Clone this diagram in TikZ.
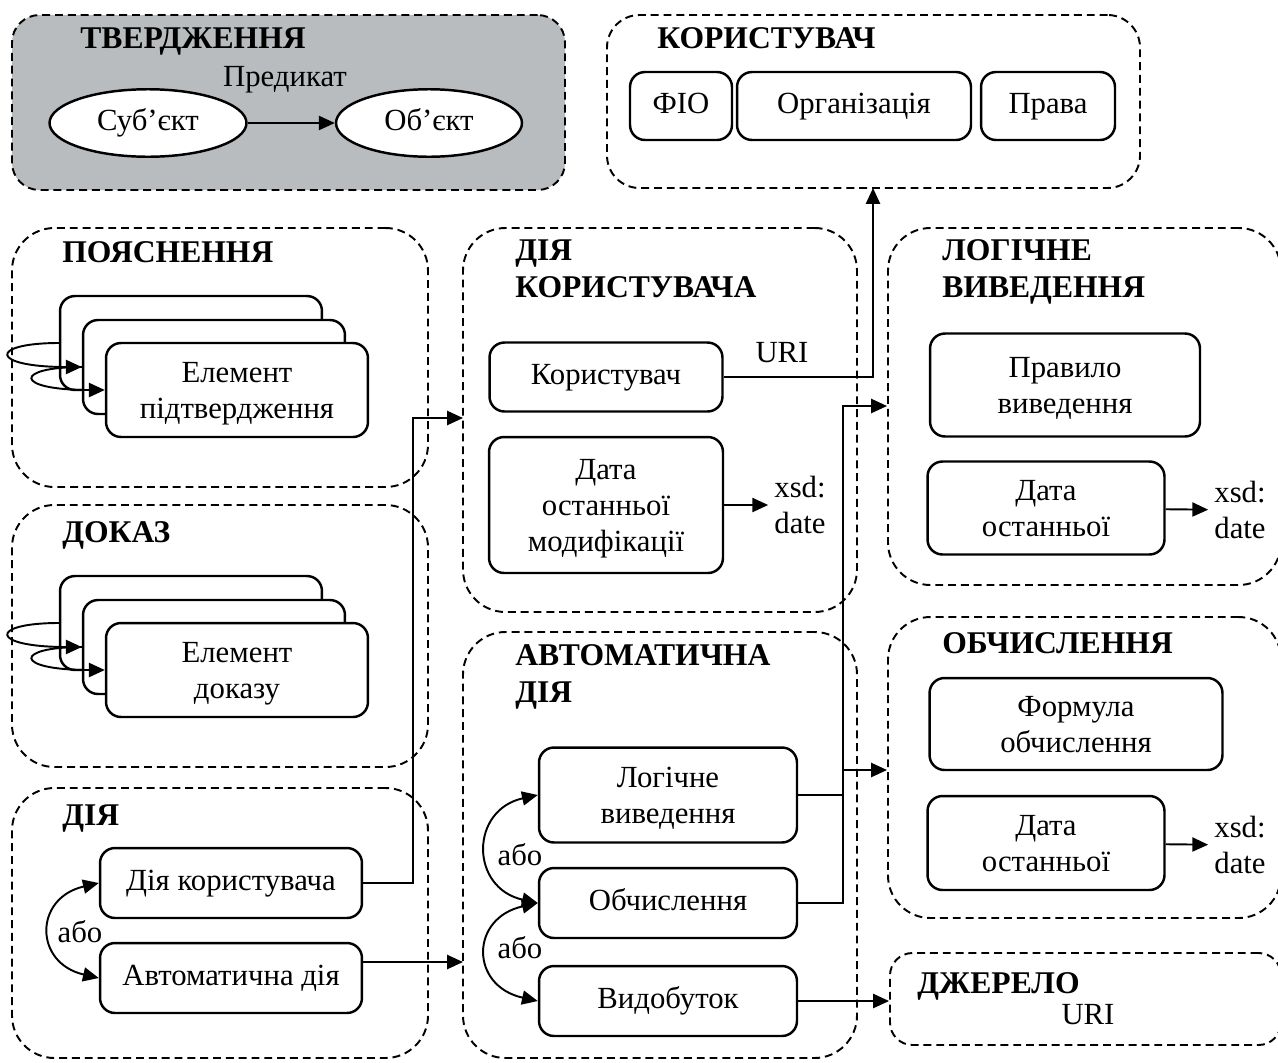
\documentclass[tikz,border=0pt]{standalone}
\usepackage{fontspec}
\setmainfont{Liberation Serif}
\usetikzlibrary{shapes.geometric, arrows.meta, fit}
\definecolor{claimgray}{RGB}{184, 188, 190}

\begin{document}
\begin{tikzpicture}[x=0.02cm, y=-0.02cm,
  font=\fontsize{17.5}{20.5}\selectfont,
  group/.style={draw, dash pattern=on 4.5pt off 2.8pt, line width=1.1pt, rounded corners=0.85cm, inner sep=0pt},
  box/.style={draw, line width=1.4pt, rounded corners=0.3cm, fill=white, align=center, inner sep=2pt,
    execute at begin node=\strut, execute at end node=\strut},
  multi/.style={box, text depth=-1.5pt},
  title/.style={anchor=base west, inner sep=0pt, align=left, font=\fontsize{18}{21}\selectfont\bfseries},
  link/.style={line width=1.1pt, -{Triangle[length=9pt, width=8pt]}},
  orlink/.style={line width=1.1pt, {Triangle[length=9pt, width=8pt]}-{Triangle[length=9pt, width=8pt]}}]

  \useasboundingbox (0, 0) rectangle (1278, 1062);

  % Claim
  \node[group, fill=claimgray, rounded corners=0.55cm, fit={(12, 15) (565, 190)}] (claim) {};
  \node[title] (claimt) at (80, 48) {ТВЕРДЖЕННЯ};
  \node[draw, ellipse, line width=1.4pt, fill=white, minimum width=3.94cm, minimum height=1.32cm,
    execute at begin node=\strut] (subj) at (148, 123) {Суб’єкт};
  \node[draw, ellipse, line width=1.4pt, fill=white, minimum width=3.72cm, minimum height=1.32cm,
    execute at begin node=\strut] (obj) at (429, 123) {Об’єкт};
  \draw[link] (subj) -- (obj);
  \node (pred) at (285, 80) {Предикат};

  % User
  \node[group, rounded corners=0.65cm, fit={(607, 15) (1140, 188)}] (user) {};
  \node[title] (usert) at (657, 48) {КОРИСТУВАЧ};
  \node[box, minimum width=2.04cm, minimum height=1.36cm] (fio) at (681, 106) {ФІО};
  \node[box, minimum width=4.68cm, minimum height=1.36cm] (org) at (854, 106) {Організація};
  \node[box, minimum width=2.68cm, minimum height=1.36cm] (rights) at (1048, 106) {Права};

  % Explanation
  \node[group, fit={(12, 228) (428, 487)}] (expl) {};
  \node[title] (explt) at (62, 262) {ПОЯСНЕННЯ};
  \node[box, minimum width=5.24cm, minimum height=1.88cm] (expa) at (191, 343) {};
  \node[box, minimum width=5.24cm, minimum height=1.88cm] (expb) at (214, 367) {};
  \node[multi, minimum width=5.24cm, minimum height=1.88cm] (expc) at (237, 390) {Елемент\\підтвердження};
  \draw[link] (expa.west) .. controls +(-70, 0) and +(-93, 0) .. (expb.west);
  \draw[link] (expb.west) .. controls +(-68, 0) and +(-92, 0) .. (expc.west);

  % Proof
  \node[group, fit={(12, 505) (428, 767)}] (proof) {};
  \node[title] (prooft) at (62, 542) {ДОКАЗ};
  \node[box, minimum width=5.24cm, minimum height=1.88cm] (prfa) at (191, 623) {};
  \node[box, minimum width=5.24cm, minimum height=1.88cm] (prfb) at (214, 647) {};
  \node[multi, minimum width=5.24cm, minimum height=1.88cm] (prfc) at (237, 670) {Елемент\\доказу};
  \draw[link] (prfa.west) .. controls +(-70, 0) and +(-93, 0) .. (prfb.west);
  \draw[link] (prfb.west) .. controls +(-68, 0) and +(-92, 0) .. (prfc.west);

  % Action
  \node[group, fit={(12, 788) (428, 1058)}] (act) {};
  \node[title] (actt) at (62, 825) {ДІЯ};
  \node[box, minimum width=5.24cm, minimum height=1.4cm] (ua) at (231, 883) {Дія користувача};
  \node[box, minimum width=5.24cm, minimum height=1.4cm] (aa) at (231, 978) {Автоматична дія};
  \draw[orlink] (ua.west) .. controls +(-65, 15) and +(-65, -15) .. (aa.west);
  \node (or1) at (80, 932) {або};

  % User action
  \node[group, fit={(463, 228) (857, 612)}] (uact) {};
  \node[title] (uactt) at (515, 297) {ДІЯ\\КОРИСТУВАЧА};
  \node[box, minimum width=4.66cm, minimum height=1.38cm] (usr) at (606, 377) {Користувач};
  \node[multi, minimum width=4.68cm, minimum height=2.72cm] (moda) at (606, 505) {Дата\\останньої\\модифікації};
  \node[align=left] (xsda) at (800, 505) {xsd:\\date};
  \draw[link] (moda) -- (xsda);
  \node (uri) at (782, 353) {URI};
  \coordinate (uriend) at (873, 188);
  \draw[link] (usr.east) -| (uriend);

  % Automatic action
  \node[group, fit={(463, 632) (857, 1058)}] (aact) {};
  \node[title] (aactt) at (515, 702) {АВТОМАТИЧНА\\ДІЯ};
  \node[multi, minimum width=5.16cm, minimum height=1.9cm] (infer) at (668, 795) {Логічне\\виведення};
  \node[box, minimum width=5.16cm, minimum height=1.4cm] (calc) at (668, 903) {Обчислення};
  \node[box, minimum width=5.16cm, minimum height=1.4cm] (extr) at (668, 1001) {Видобуток};
  \draw[orlink] (infer.west) .. controls +(-68, 15) and +(-68, -15) .. (calc.west);
  \draw[orlink] (calc.west) .. controls +(-68, 15) and +(-68, -15) .. (extr.west);
  \node (or2) at (520, 855) {або};
  \node (or3) at (520, 948) {або};

  % Inference
  \node[group, fit={(888, 228) (1281, 585)}] (infg) {};
  \node[title] (infgt) at (942, 297) {ЛОГІЧНЕ\\ВИВЕДЕННЯ};
  \node[multi, minimum width=5.4cm, minimum height=2.06cm] (rule) at (1065, 385) {Правило\\виведення};
  \node[multi, minimum width=4.74cm, minimum height=1.86cm] (modb) at (1046, 508) {Дата\\останньої};
  \node[align=left] (xsdb) at (1240, 510) {xsd:\\date};
  \draw[link] (modb) -- (xsdb);

  % Calculation
  \node[group, fit={(888, 617) (1281, 918)}] (calcg) {};
  \node[title] (calcgt) at (942, 653) {ОБЧИСЛЕННЯ};
  \node[multi, minimum width=5.86cm, minimum height=1.84cm] (form) at (1076, 724) {Формула\\обчислення};
  \node[multi, minimum width=4.74cm, minimum height=1.88cm] (modc) at (1046, 843) {Дата\\останньої};
  \node[align=left] (xsdc) at (1240, 845) {xsd:\\date};
  \draw[link] (modc) -- (xsdc);

  % Source
  \node[group, rounded corners=0.45cm, fit={(890, 953) (1281, 1045)}] (src) {};
  \node[title] (srct) at (917, 993) {ДЖЕРЕЛО};
  \node (srcuri) at (1088, 1015) {URI};

  % Links
  \coordinate (uain) at (463, 418);
  \draw[link] (ua.east) -- ++(50, 0) |- (uain);
  \coordinate (aain) at (463, 962);
  \draw[link] (aa.east |- aain) -- (aain);
  \coordinate (jn) at (843, 406);
  \draw[link] (calc.east) -| (jn) -- (infg.west |- jn);
  \draw[line width=1.1pt] (infer.east) -- (infer.east -| jn);
  \draw[link] (jn |- 0, 770) -- (calcg.west |- 0, 770);
  \draw[link] (extr.east) -- (src.west |- extr.east);
\end{tikzpicture}
\end{document}
